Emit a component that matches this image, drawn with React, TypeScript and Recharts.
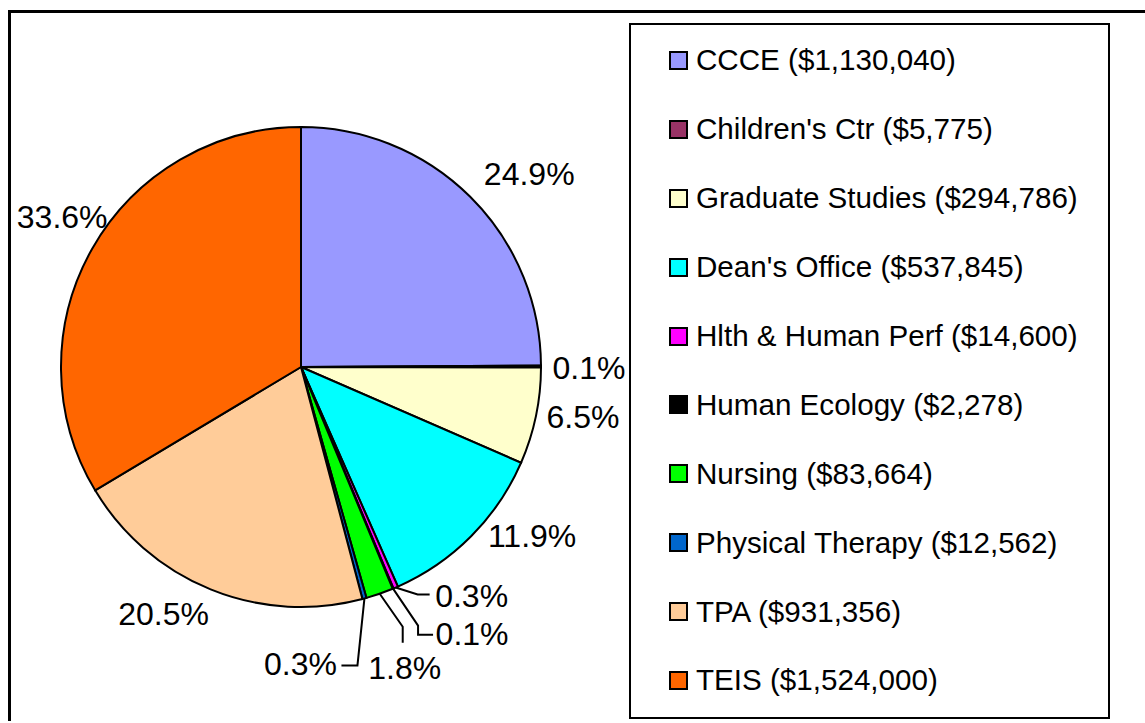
import { PieChart, Pie, Cell, Legend } from 'recharts';

const units = [
  'CCCE',
  "Children's Ctr",
  'Graduate Studies',
  "Dean's Office",
  'Hlth & Human Perf',
  'Human Ecology',
  'Nursing',
  'Physical Therapy',
  'TPA',
  'TEIS',
];
const amounts = [1130040, 5775, 294786, 537845, 14600, 2278, 83664, 12562, 931356, 1524000];
const colors = [
  '#9999FF',
  '#993366',
  '#FFFFCC',
  '#00FFFF',
  '#FF00FF',
  '#000000',
  '#00FF00',
  '#0066CC',
  '#FFCC99',
  '#FF6600',
];

const FONT = 'Arial, "Liberation Sans", sans-serif';
const RADIAN = Math.PI / 180;

// label centre offset from the slice's outer-edge midpoint (Excel's manual placements)
const labelShift: [number, number][] = [
  [59, -23],
  [48, 1],
  [47, 1],
  [61, 0],
  [76, 8],
  [79, 45],
  [25, 74],
  [-64, 66],
  [-47, 25],
  [-30, -32],
];

// leader line bend points, relative to the label centre (tiny slices only)
const leaders: Record<number, [number, number][]> = {
  4: [[-54, -1], [-42, -1]],
  5: [[-54, -8], [-54, 1], [-39, 1]],
  6: [[-2, -41], [-2, -25]],
  7: [[57, 1], [41, 1]],
};

const data = units.map((name, i) => ({ name, value: amounts[i] }));

const fmtMoney = (v: number) => '$' + v.toLocaleString('en-US');

function renderLabel(props: any) {
  const { cx, cy, midAngle, outerRadius, percent, index } = props;
  const px = cx + outerRadius * Math.cos(-midAngle * RADIAN);
  const py = cy + outerRadius * Math.sin(-midAngle * RADIAN);
  const [dx, dy] = labelShift[index];
  const lx = px + dx;
  const ly = py + dy;
  const bends = leaders[index];
  let path: string | null = null;
  if (bends) {
    path = `M${px},${py}` + bends.map(([bx, by]) => ` L${lx + bx},${ly + by}`).join('');
  }
  return (
    <g key={`lbl-${index}`}>
      {path && <path d={path} stroke="#000" strokeWidth={2} fill="none" />}
      <text
        x={lx}
        y={ly}
        textAnchor="middle"
        dominantBaseline="central"
        fill="#000"
        fontSize={32}
        fontFamily={FONT}
      >
        {(percent * 100).toFixed(1)}%
      </text>
    </g>
  );
}

function renderLegend() {
  return (
    <div
      style={{
        boxSizing: 'border-box',
        width: 481,
        height: 696,
        border: '2px solid #000',
        paddingTop: 1,
        fontFamily: FONT,
        fontSize: 29.6,
        color: '#000',
        background: '#fff',
      }}
    >
      {units.map((u, i) => (
        <div
          key={u}
          style={{ height: 68.9, display: 'flex', alignItems: 'center', whiteSpace: 'nowrap' }}
        >
          <span
            style={{
              display: 'inline-block',
              boxSizing: 'border-box',
              width: 19,
              height: 19,
              marginLeft: 38,
              marginRight: 8,
              background: colors[i],
              border: '2px solid #000',
            }}
          />
          <span>
            {u} ({fmtMoney(amounts[i])})
          </span>
        </div>
      ))}
    </div>
  );
}

export default function App() {
  return (
    <div style={{ position: 'absolute', left: 8, top: 8, width: 1137, height: 713 }}>
      <div
        style={{
          position: 'absolute',
          left: 0,
          top: 2,
          width: 1137,
          height: 711,
          borderLeft: '3px solid #000',
          borderTop: '3px solid #000',
          boxSizing: 'border-box',
        }}
      />
      <div style={{ position: 'absolute', left: 0, top: 0 }}>
        <PieChart width={1137} height={713} margin={{ top: 0, right: 0, bottom: 0, left: 0 }}>
          <Pie
            data={data}
            dataKey="value"
            nameKey="name"
            cx={293}
            cy={359}
            outerRadius={240}
            startAngle={90}
            endAngle={-270}
            stroke="#000"
            strokeWidth={2}
            labelLine={false}
            label={renderLabel}
            isAnimationActive={false}
          >
            {data.map((d, i) => (
              <Cell key={d.name} fill={colors[i]} />
            ))}
          </Pie>
          <Legend
            content={renderLegend}
            layout="vertical"
            verticalAlign="top"
            align="right"
            wrapperStyle={{ position: 'absolute', left: 621, top: 15, width: 481, height: 696 }}
          />
        </PieChart>
      </div>
    </div>
  );
}
